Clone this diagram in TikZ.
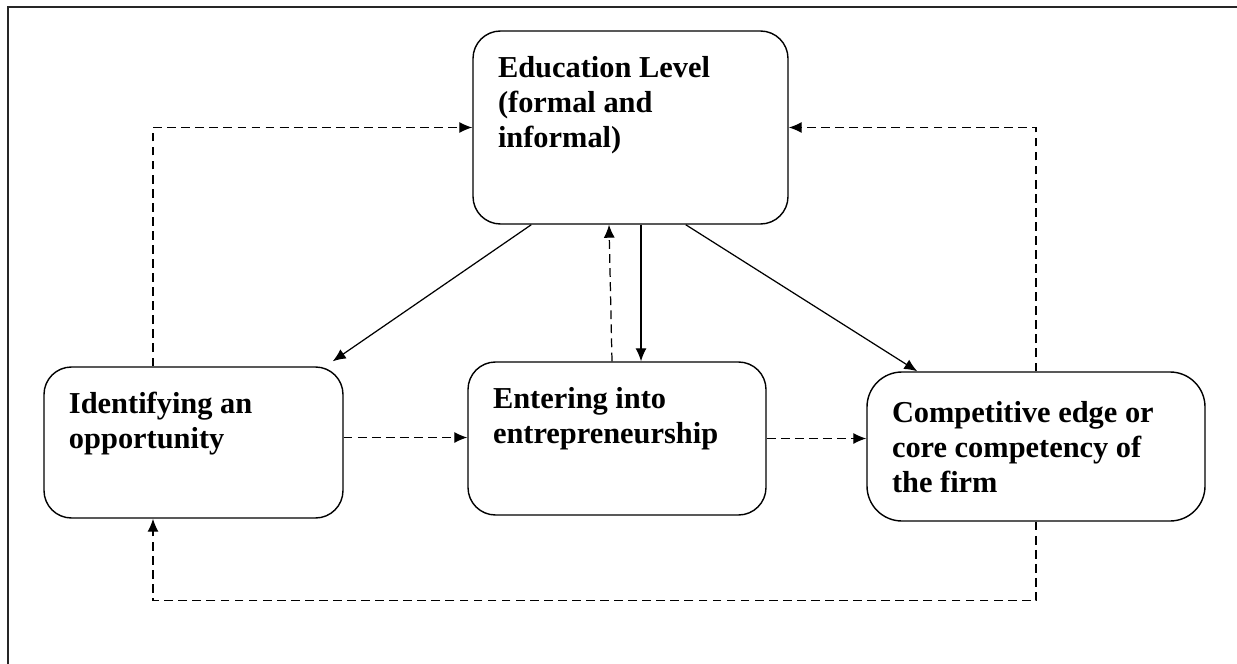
\documentclass[tikz,border=0pt]{standalone}
\usepackage{fontspec}
\setmainfont{Liberation Serif}
\usepackage{tikz}
\usetikzlibrary{positioning,arrows.meta}

\tikzset{
  stage/.style={draw, line width=0.8pt, rounded corners=0.55cm, inner sep=0.5cm,
    font=\fontsize{17.3}{19.9}\selectfont\bfseries},
  link/.style={line width=0.7pt, -{Latex[length=2.6mm,width=2.2mm]}},
  feedback/.style={link, dash pattern=on 5pt off 3pt},
}
\newcommand{\stagetext}[3]{\parbox[t][#2][t]{#1}{\raggedright #3}}

\begin{document}
\begin{tikzpicture}
		\useasboundingbox (0,0) rectangle (24.74,-13.28);
		% outer frame
		\draw[line width=1.1pt, black!85] (0.16,-13.28) -- (0.16,-0.14) -- (24.74,-0.14);

		% the four stages
		\node[stage] (edu) at (12.61,-2.55) {\stagetext{5.30cm}{2.86cm}{Education Level\\(formal and\\informal)}};
		\node[stage] (idn) at (3.87,-8.85) {\stagetext{4.98cm}{2.02cm}{Identifying an\\opportunity}};
		\node[stage] (ent) at (12.34,-8.77) {\stagetext{4.96cm}{2.06cm}{Entering into\\entrepreneurship}};
		\node[stage, rounded corners=0.7cm] (comp) at (20.72,-8.93) {\stagetext{5.76cm}{1.98cm}{\vspace*{0.08cm}Competitive edge or\\core competency of\\the firm}};

		% influence of education
		\draw[link] ([xshift=1.18cm]edu.south west) -- ([xshift=-0.22cm,yshift=0.1cm]idn.north east);
		\draw[link] ([xshift=0.21cm]edu.south) -- ([xshift=0.21cm]edu.south |- ent.north);
		\draw[link] ([xshift=-2.06cm]edu.south east) -- ([xshift=1.02cm]comp.north west);

		% feedback and sequence
		\draw[feedback] ([xshift=-0.1cm]ent.north) -- ([xshift=-0.43cm]edu.south);
		\draw[feedback] ([yshift=0.1cm]idn.east) -- ([yshift=0.1cm]idn.east -| ent.west);
		\draw[feedback] (ent.east) -- (ent.east -| comp.west);
		\draw[feedback] ([xshift=-0.81cm]idn.north) |- (edu.west);
		\draw[feedback] (comp.north) |- (edu.east);
		\draw[feedback] (comp.south) |- ([xshift=-0.81cm,yshift=-1.64cm]idn.south) -- ([xshift=-0.81cm]idn.south);
\end{tikzpicture}
\end{document}
